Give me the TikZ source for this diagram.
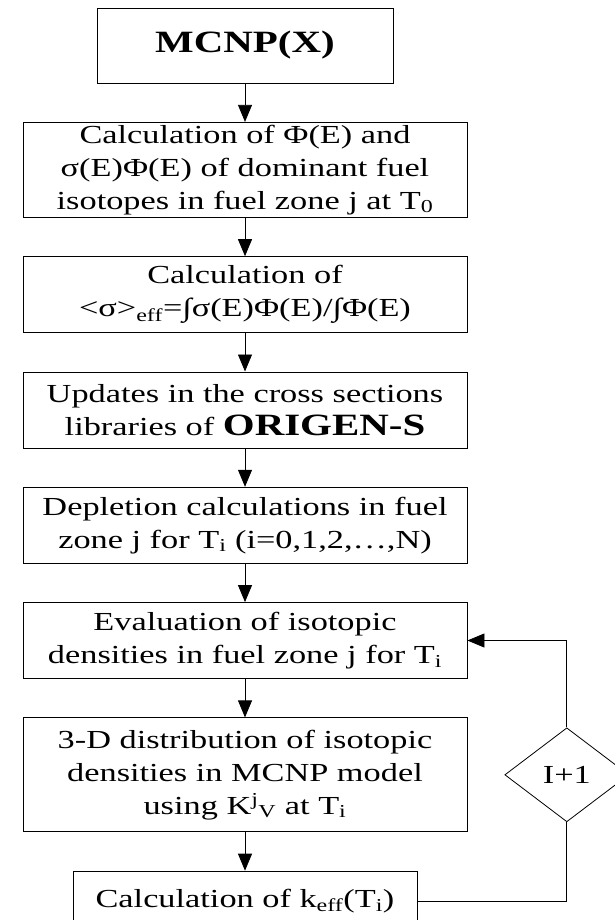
\documentclass[tikz,border=0pt]{standalone}
\usepackage{fontspec}
\setmainfont[FakeStretch=1.32]{Liberation Serif}
\usepackage{tikz}
\usetikzlibrary{shapes.geometric, positioning, arrows.meta}
\tikzset{
    ->, % every connector of the chart is directed
    >={Triangle[length=17pt, width=14pt]}, % filled heads as in the chart
    every node/.style={font=\fontsize{26}{33}\selectfont}, % text size of the steps
    node distance=38.5pt, % gap between two steps. Change if necessary.
}

\begin{document}
\begin{tikzpicture}[
                                x=1pt, y=1pt,
                                line width=0.8pt,
                                stepBox/.style={draw, rectangle, align=center, inner sep=0pt, minimum width=444pt, minimum height=76pt},
                                codeName/.style={font=\fontsize{31}{38}\selectfont\bfseries},
                            ]
                            \useasboundingbox (0,0) rectangle (615,-920);
                            \node[stepBox, codeName, minimum width=296pt, minimum height=75pt] (mcnp) at (245,-45.5) {MCNP(X)};
                            \node[stepBox, below=of mcnp, minimum height=95pt] (flux) {Calculation of Φ(E) and\\ σ(E)Φ(E) of dominant fuel\\ isotopes in fuel zone j at T\textsubscript{0}};
                            \node[stepBox, below=of flux] (avg) {Calculation of\\ <σ>\textsubscript{eff}=∫σ(E)Φ(E)/∫Φ(E)};
                            \node[stepBox, below=of avg] (lib) {Updates in the cross sections\\ libraries of {\fontsize{31}{33}\selectfont\bfseries ORIGEN-S}};
                            \node[stepBox, below=of lib] (depl) {Depletion calculations in fuel\\ zone j for T\textsubscript{i} (i=0,1,2,…,N)};
                            \node[stepBox, below=of depl] (eval) {Evaluation of isotopic\\ densities in fuel zone j for T\textsubscript{i}};
                            \node[stepBox, below=of eval, minimum height=114pt] (dist) {3-D distribution of isotopic\\ densities in MCNP model\\ using K\textsuperscript{j}\textsubscript{V} at T\textsubscript{i}};
                            \node[stepBox, below=of dist, minimum width=344pt, minimum height=60pt] (keff) {Calculation of k\textsubscript{eff}(T\textsubscript{i})};
                            \node[draw, diamond, aspect=1.32, inner sep=0pt, minimum width=124pt, minimum height=94pt, right=37pt of dist] (next) {I+1};
                            \draw
                            (mcnp) edge (flux)
                            (flux) edge (avg)
                            (avg) edge (lib)
                            (lib) edge (depl)
                            (depl) edge (eval)
                            (eval) edge (dist)
                            (dist) edge (keff);
                            \draw[-] (keff) -| (next);
                            \draw (next) |- (eval);
                        \end{tikzpicture}
\end{document}
